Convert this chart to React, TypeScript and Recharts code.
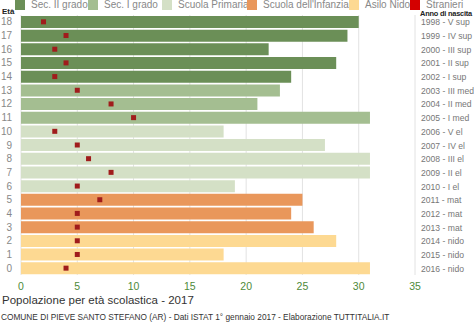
import React from 'react'
import { ComposedChart, Bar, Scatter, XAxis, YAxis, CartesianGrid, Cell } from 'recharts'

const ages = [18, 17, 16, 15, 14, 13, 12, 11, 10, 9, 8, 7, 6, 5, 4, 3, 2, 1, 0]
const totals = [30, 29, 22, 28, 24, 23, 21, 31, 18, 27, 31, 31, 19, 25, 24, 26, 28, 18, 31]
const stranieri = [2, 4, 3, 4, 3, 5, 8, 10, 3, 5, 6, 8, 5, 7, 5, 5, 5, 5, 4]
const birthLabels = [
  '1998 - V sup', '1999 - IV sup', '2000 - III sup', '2001 - II sup', '2002 - I sup',
  '2003 - III med', '2004 - II med', '2005 - I med',
  '2006 - V el', '2007 - IV el', '2008 - III el', '2009 - II el', '2010 - I el',
  '2011 - mat', '2012 - mat', '2013 - mat',
  '2014 - nido', '2015 - nido', '2016 - nido',
]
const levels = ['Sec. II grado', 'Sec. I grado', 'Scuola Primaria', "Scuola dell'Infanzia", 'Asilo Nido']
const levelOfAge = [0, 0, 0, 0, 0, 1, 1, 1, 2, 2, 2, 2, 2, 3, 3, 3, 4, 4, 4]
const xTicks = [0, 5, 10, 15, 20, 25, 30, 35]

const levelColors = ['#6b8f57', '#a4be91', '#d4e0c6', '#e9975b', '#fdd992']
const FONT = 'Arial, "Liberation Sans", Helvetica, sans-serif'

const data = ages.map((a, i) => ({
  age: String(a),
  anno: birthLabels[i],
  value: totals[i],
  stranieri: stranieri[i],
  level: levelOfAge[i],
}))

const legendItems = [
  { label: levels[0], color: levelColors[0], x: 15 },
  { label: levels[1], color: levelColors[1], x: 88 },
  { label: levels[2], color: levelColors[2], x: 162 },
  { label: levels[3], color: levelColors[3], x: 247 },
  { label: levels[4], color: levelColors[4], x: 349 },
  { label: 'Stranieri', color: '#d40000', x: 410 },
]

function Square(props: any) {
  const { cx, cy } = props
  if (cx == null || cy == null) return null
  return <rect x={cx - 2.5} y={cy - 2.5} width={5} height={5} fill="#a01c1c" />
}

// etichette a destra: senza a capo, allineate a sinistra dopo il bordo
function RightTick(props: any) {
  const { y, payload } = props
  return (
    <text x={421} y={y} dy={3.5} textAnchor="start" fill="#777" fontSize={8.6} fontFamily={FONT}>
      {payload.value}
    </text>
  )
}

export default function App() {
  return (
    <div style={{ position: 'absolute', left: 0, top: 0, width: 474, height: 326, background: '#fff', fontFamily: FONT, overflow: 'hidden' }}>
      {legendItems.map(it => (
        <div key={it.label} style={{ position: 'absolute', left: it.x, top: -1, display: 'flex', alignItems: 'center', fontSize: 10, lineHeight: '11px', color: '#888', whiteSpace: 'nowrap' }}>
          <span style={{ display: 'inline-block', width: 10, height: 10, background: it.color, marginRight: 6 }} />
          {it.label}
        </div>
      ))}
      <div style={{ position: 'absolute', left: 2, top: 7, fontSize: 8, lineHeight: '9px', fontWeight: 'bold', color: '#222' }}>Età</div>
      <div style={{ position: 'absolute', left: 420, top: 9, fontSize: 7.4, lineHeight: '9px', fontWeight: 'bold', color: '#222', whiteSpace: 'nowrap', letterSpacing: -0.2 }}>Anno di nascita</div>

      <div style={{ position: 'absolute', left: 0, top: 0 }}>
        <ComposedChart width={474} height={293} data={data} layout="vertical"
          margin={{ top: 15, right: 0, bottom: 0, left: 0 }} barCategoryGap="7%">
          <CartesianGrid horizontal={false} stroke="#e2e2e2" />
          <XAxis type="number" domain={[0, 35]} ticks={xTicks} axisLine={false} tickLine={false}
            tick={{ fill: '#4e8a3a', fontSize: 10.5, fontFamily: FONT }} height={18} tickMargin={2} />
          <YAxis yAxisId="left" type="category" dataKey="age" width={21} axisLine={false} tickLine={false}
            tick={{ fill: '#888', fontSize: 10, fontFamily: FONT }} tickMargin={3} interval={0} />
          <YAxis yAxisId="right" type="category" dataKey="anno" orientation="right" width={59} axisLine={false} tickLine={false}
            tick={RightTick} interval={0} />
          <Bar yAxisId="left" dataKey="value" isAnimationActive={false}>
            {data.map((d, i) => <Cell key={i} fill={levelColors[d.level]} />)}
          </Bar>
          <Scatter yAxisId="left" dataKey="stranieri" shape={Square} isAnimationActive={false} />
        </ComposedChart>
      </div>

      <div style={{ position: 'absolute', left: 2, top: 294, fontSize: 11.5, color: '#333' }}>Popolazione per età scolastica - 2017</div>
      <div style={{ position: 'absolute', left: 1, top: 312, fontSize: 8.3, color: '#333', whiteSpace: 'nowrap' }}>
        COMUNE DI PIEVE SANTO STEFANO (AR) - Dati ISTAT 1° gennaio 2017 - Elaborazione TUTTITALIA.IT
      </div>
    </div>
  )
}
